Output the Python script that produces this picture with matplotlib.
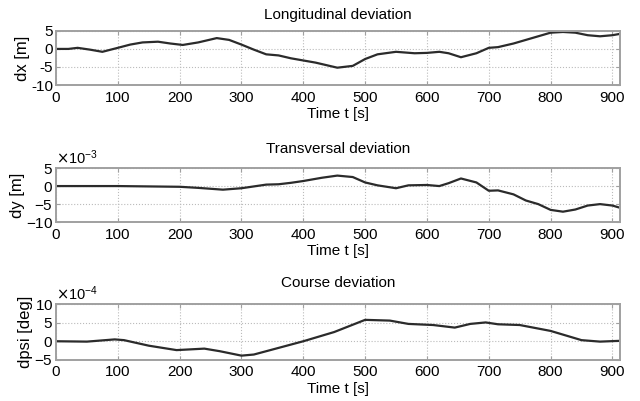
import matplotlib.pyplot as plt
from matplotlib.ticker import ScalarFormatter

plt.rcParams['font.family'] = ['Liberation Sans', 'DejaVu Sans']
plt.rcParams['axes.unicode_minus'] = False

# longitudinal deviation dx [m]
t_dx = [0, 20, 35, 55, 75, 100, 120, 140, 165, 185, 205, 230, 260, 280, 300, 320,
        340, 360, 380, 400, 420, 440, 455, 480, 500, 520, 550, 580, 600, 620, 635,
        655, 680, 700, 715, 740, 770, 800, 820, 840, 860, 880, 900, 910]
dx = [0, 0.0, 0.3, -0.2, -0.8, 0.3, 1.2, 1.8, 2.0, 1.5, 1.1, 1.8, 3.0, 2.5, 1.2, -0.2,
      -1.5, -1.8, -2.6, -3.2, -3.8, -4.6, -5.2, -4.7, -2.8, -1.5, -0.8, -1.2, -1.1, -0.8, -1.2,
      -2.3, -1.2, 0.3, 0.5, 1.5, 3.0, 4.5, 4.7, 4.5, 3.8, 3.5, 3.8, 4.1]

# transversal deviation dy [m]
t_dy = [0, 50, 100, 150, 200, 230, 270, 300, 320, 340, 360, 380, 400, 430, 455, 480,
        500, 520, 550, 570, 600, 620, 635, 655, 680, 700, 715, 740, 760, 780, 800,
        820, 840, 860, 880, 900, 910]
dy = [0, 0, 0, -0.1e-3, -0.2e-3, -0.5e-3, -1.0e-3, -0.6e-3, -0.1e-3, 0.4e-3, 0.5e-3, 0.9e-3,
      1.4e-3, 2.3e-3, 2.9e-3, 2.5e-3, 1.0e-3, 0.2e-3, -0.6e-3, 0.2e-3, 0.3e-3, 0.0,
      0.8e-3, 2.1e-3, 1.0e-3, -1.3e-3, -1.2e-3, -2.3e-3, -4.0e-3, -5.0e-3, -6.6e-3,
      -7.1e-3, -6.5e-3, -5.4e-3, -5.0e-3, -5.4e-3, -5.9e-3]

# course deviation dpsi [deg]
t_dpsi = [0, 50, 95, 110, 150, 195, 240, 265, 300, 320, 360, 400, 450, 500, 540,
          570, 610, 645, 670, 695, 715, 750, 800, 850, 880, 910]
dpsi = [0, -0.1e-4, 0.5e-4, 0.3e-4, -1.2e-4, -2.4e-4, -2.0e-4, -2.7e-4, -3.9e-4, -3.6e-4,
        -1.8e-4, 0, 2.5e-4, 5.8e-4, 5.6e-4, 4.7e-4, 4.4e-4, 3.7e-4, 4.7e-4, 5.1e-4,
        4.6e-4, 4.4e-4, 2.8e-4, 0.3e-4, -0.1e-4, 0.1e-4]

titles = ['Longitudinal deviation', 'Transversal deviation', 'Course deviation']
ylabels = ['dx [m]', 'dy [m]', 'dpsi [deg]']
xs = [t_dx, t_dy, t_dpsi]
ys = [dx, dy, dpsi]
ylims = [(-10, 5), (-10e-3, 5e-3), (-5e-4, 10e-4)]
yticks = [[-10, -5, 0, 5], [-10e-3, -5e-3, 0, 5e-3], [-5e-4, 0, 5e-4, 10e-4]]
powers = [None, -3, -4]
bottoms = [0.788, 0.446, 0.103]
heights = [0.135, 0.135, 0.138]
title_y = [1.30, 1.35, 1.39]

fig = plt.figure(figsize=(6.4, 4.01), dpi=100)

for i in range(3):
    ax = fig.add_axes([0.0875, bottoms[i], 0.881, heights[i]])
    ax.plot(xs[i], ys[i], color='#2b2b2b', linewidth=1.6)
    ax.set_xlim(0, 912)
    ax.set_ylim(*ylims[i])
    ax.set_xticks(range(0, 901, 100))
    ax.set_yticks(yticks[i])
    ax.grid(True, linestyle=':', color='#bbbbbb', linewidth=0.8)
    for s in ax.spines.values():
        s.set_color('#a0a0a0')
        s.set_linewidth(1.4)
    ax.tick_params(direction='in', top=True, right=True, length=3,
                   color='#a0a0a0', labelsize=11)
    ax.tick_params(axis='x', pad=4)
    ax.tick_params(axis='y', pad=2)
    if powers[i] is not None:
        fmt = ScalarFormatter(useMathText=True)
        fmt.set_powerlimits((powers[i], powers[i]))
        ax.yaxis.set_major_formatter(fmt)
        ax.yaxis.get_offset_text().set_fontsize(10.5)
    ax.set_title(titles[i], fontsize=11, y=title_y[i], va='center', pad=0)
    ax.set_xlabel('Time t [s]', fontsize=11, labelpad=2)
    ax.set_ylabel(ylabels[i], fontsize=12, labelpad=1)

plt.savefig('out.png', dpi=100)
